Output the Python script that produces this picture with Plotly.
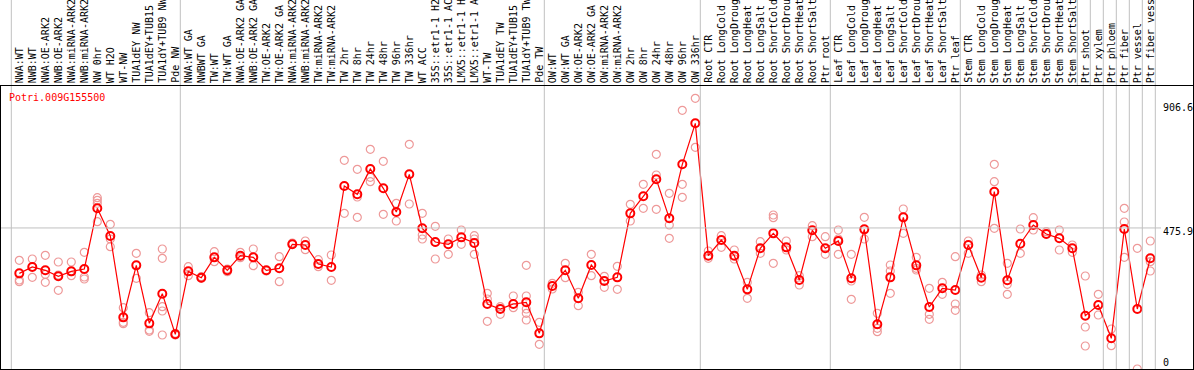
import plotly.graph_objects as go

# ---------------- data ----------------
samples = [
    "NWA:WT", "NWB:WT", "NWA:OE-ARK2", "NWB:OE-ARK2", "NWA:miRNA-ARK2", "NWB:miRNA-ARK2",
    "NW 0hr", "WT H2O", "WT-NW", "TUA1dEY NW", "TUA1dEY+TUB15", "TUA1dY+TUB9 NW", "Pde NW",
    "NWA:WT GA", "NWBWT GA", "TW:WT", "TW:WT GA", "NWA:OE-ARK2 GA", "NWB:OE-ARK2 GA",
    "TW:OE-ARK2", "TW:OE-ARK2 GA", "NWA:miRNA-ARK2", "NWB:miRNA-ARK2", "TW:miRNA-ARK2",
    "TW:miRNA-ARK2", "TW 2hr", "TW 8hr", "TW 24hr", "TW 48hr", "TW 96hr", "TW 336hr",
    "WT ACC", "35S::etr1-1 H2", "35S::etr1-1 AC", "LMX5::etr1-1 H", "LMX5::etr1-1 A",
    "WT-TW", "TUA1dEY TW", "TUA1dEY+TUB15", "TUA1dY+TUB9 TW", "Pde TW",
    "OW:WT", "OW:WT GA", "OW:OE-ARK2", "OW:OE-ARK2 GA", "OW:miRNA-ARK2", "OW:miRNA-ARK2",
    "OW 2hr", "OW 8hr", "OW 24hr", "OW 48hr", "OW 96hr", "OW 336hr",
    "Root CTR", "Root LongCold", "Root LongDroug", "Root LongHeat", "Root LongSalt",
    "Root ShortCold", "Root ShortDrou", "Root ShortHeat", "Root ShortSalt", "Ptr root",
    "Leaf CTR", "Leaf LongCold", "Leaf LongDroug", "Leaf LongHeat", "Leaf LongSalt",
    "Leaf ShortCold", "Leaf ShortDrou", "Leaf ShortHeat", "Leaf ShortSalt", "Ptr leaf",
    "Stem CTR", "Stem LongCold", "Stem LongDroug", "Stem LongHeat", "Stem LongSalt",
    "Stem ShortCold", "Stem ShortDrou", "Stem ShortHeat", "Stem ShortSalt", "Ptr shoot",
    "Ptr xylem", "Ptr phloem", "Ptr fiber", "Ptr vessel", "Ptr fiber vess",
]

means = [
    323.8, 345.1, 333.9, 313.8, 330.5, 338.4, 541.6, 448.9, 176.4, 350.6, 156.3, 255.7, 119.5,
    330.5, 309.3, 377.4, 333.9, 383.0, 377.4, 333.9, 340.6, 421.0, 418.8, 355.1, 345.1,
    616.4, 588.5, 673.4, 608.6, 529.3, 655.5, 474.6, 428.8, 421.0, 444.4, 425.5,
    221.1, 204.4, 221.1, 226.7, 122.8,
    281.4, 333.9, 240.1, 351.8, 298.2, 310.4, 524.8, 581.8, 638.8, 508.1, 689.0, 826.4,
    383.0, 435.5, 383.0, 270.2, 407.6, 457.8, 410.9, 301.5, 467.9, 407.6,
    432.2, 307.1, 471.2, 153.0, 310.4, 511.4, 350.6, 211.1, 273.6, 268.0,
    418.8, 309.3, 597.4, 300.4, 423.2, 485.8, 455.6, 441.1, 407.6, 182.0,
    217.8, 106.1, 472.4, 204.4, 374.1,
]

replicates = [
    [367.4, 301.5, 295.9], [371.9, 346.2, 310.4], [384.1, 320.5, 293.7], [361.8, 318.3, 266.9],
    [361.8, 316.0, 329.4], [394.2, 311.6, 304.9], [577.3, 568.4, 558.4, 496.9],
    [488.0, 438.9, 413.2], [208.8, 159.7, 155.2], [390.8, 307.1], [192.1, 134.0, 129.5],
    [405.4, 374.1, 212.2, 197.7, 117.3], [122.8, 117.3],
    [346.2, 316.0], [312.7, 307.1], [396.4, 362.9], [329.4, 338.4], [394.2, 376.3],
    [405.4, 349.5], [331.7], [379.7, 295.9], [421.0, 425.5], [432.2, 403.1], [369.6, 346.2],
    [385.3, 300.4], [702.4, 524.8], [672.3, 579.6, 511.4], [739.3, 645.5, 630.9],
    [699.1, 521.5], [558.4, 499.2], [756.0, 556.1], [524.8, 452.3, 438.9],
    [481.3, 427.7, 371.9], [438.9, 387.5], [469.0, 421.0], [450.0, 438.9, 387.5],
    [256.8, 237.9, 163.0], [212.2, 186.5], [247.9, 208.8],
    [350.6, 247.9, 204.4, 189.8, 167.5], [159.7, 86.0],
    [290.3, 271.4], [357.3, 309.3], [260.2, 215.5], [387.5, 316.0], [313.8, 276.9],
    [347.3, 270.2], [555.0, 499.2], [622.0, 541.6], [722.5, 653.3, 538.2],
    [591.8, 485.8, 441.1], [869.9, 622.0, 578.5], [910.1, 746.0],
    [398.7, 374.1], [450.0, 410.9], [402.0, 371.9], [293.7, 240.1], [429.9, 390.8],
    [519.3, 510.3, 357.3], [432.2, 402.0], [316.0, 284.8], [483.5, 446.7], [446.7, 387.5],
    [469.0, 438.9, 387.5], [387.5, 298.2, 236.7], [511.4, 438.9], [189.8, 139.6, 128.4],
    [351.8, 331.7, 256.8], [539.4, 457.8], [377.4, 340.6, 335.0], [273.6, 186.5, 169.7],
    [293.7, 253.5], [379.7, 221.1, 199.9],
    [432.2, 390.8], [318.3, 295.9], [689.0, 630.9, 474.6], [357.3, 287.0, 253.5],
    [472.4, 390.8], [510.3, 469.0], [455.6, 463.4], [469.0, 402.0], [418.8, 394.2],
    [314.9, 144.1, 80.4],
    [253.5, 184.3], [137.4, 81.5], [541.6, 495.8, 377.4], [407.6, 3.4], [432.2, 362.9, 331.7],
]

gene_id = "Potri.009G155500"
axis_labels = ["906.6", "475.9", "0"]
axis_values = [906.6, 475.9, 0.0]
gridline_value = 475.9

# ---------------- layout constants ----------------
W, H = 1194, 370
STEP = 13.0          # px between samples
FIRST_PX = 19.3      # px of first sample
PX_PER_UNIT = 0.2985 # px per expression unit
TOP_PX = 85.5        # line between labels and plot
FONT = "DejaVu Sans Mono"

plot_sep_after = [-1, 12, 40, 52, 62, 72, 83, 84, 85, 86, 87]
label_sep_after = [81, 82]

def px_x(p):
    return p / W

def px_y(p):
    return 1 - p / H

x_range = [-FIRST_PX / STEP, (W - FIRST_PX) / STEP]
y_range = [0, H / PX_PER_UNIT]

fig = go.Figure()

# replicate points
rx, ry = [], []
for i, reps in enumerate(replicates):
    for v in reps:
        rx.append(i)
        ry.append(v)
fig.add_trace(go.Scatter(
    x=rx, y=ry, mode="markers",
    marker=dict(symbol="circle-open", size=8, color="#EE9999", line=dict(width=1.2)),
    hoverinfo="skip", showlegend=False,
))

# mean line
fig.add_trace(go.Scatter(
    x=list(range(len(means))), y=means, mode="lines+markers",
    line=dict(color="#FF0000", width=1.2),
    marker=dict(symbol="circle-open", size=8, color="#FF0000", line=dict(width=2)),
    showlegend=False,
))

shapes = []
sep_color = "#C0C0C0"
for k in plot_sep_after:
    xv = k + 0.5 - 1.5 / STEP
    shapes.append(dict(type="line", xref="x", yref="paper", x0=xv, x1=xv,
                       y0=px_y(369), y1=1, line=dict(color=sep_color, width=1)))
for k in label_sep_after:
    xv = k + 0.5 - 1.5 / STEP
    shapes.append(dict(type="line", xref="x", yref="paper", x0=xv, x1=xv,
                       y0=px_y(TOP_PX), y1=1, line=dict(color=sep_color, width=1)))
# horizontal grid line
shapes.append(dict(type="line", xref="paper", yref="y", x0=0, x1=px_x(1161),
                   y0=gridline_value, y1=gridline_value, line=dict(color=sep_color, width=1)))
# borders
black = dict(color="black", width=1)
shapes.append(dict(type="line", xref="paper", yref="paper", x0=0, x1=1,
                   y0=px_y(TOP_PX), y1=px_y(TOP_PX), line=black))
shapes.append(dict(type="line", xref="paper", yref="paper", x0=0, x1=1,
                   y0=px_y(369.5), y1=px_y(369.5), line=black))
shapes.append(dict(type="line", xref="paper", yref="paper", x0=px_x(0.5), x1=px_x(0.5),
                   y0=px_y(TOP_PX), y1=px_y(370), line=black))
shapes.append(dict(type="line", xref="paper", yref="paper", x0=px_x(1193.5), x1=px_x(1193.5),
                   y0=0, y1=1, line=black))

annotations = []
for i, name in enumerate(samples):
    annotations.append(dict(
        x=i, xref="x", y=px_y(85), yref="paper", text=name, textangle=-90,
        xanchor="center", yanchor="bottom", showarrow=False,
        font=dict(family=FONT, size=10, color="black"),
    ))
annotations.append(dict(
    x=px_x(7), xref="paper", y=px_y(97.5), yref="paper", text=gene_id,
    xanchor="left", yanchor="middle", showarrow=False,
    font=dict(family=FONT, size=10, color="#FF0000"),
))
label_shift = [-8, -4, 8]
for lab, val, sh in zip(axis_labels, axis_values, label_shift):
    annotations.append(dict(
        x=px_x(1161), xref="paper", y=val, yref="y", yshift=sh, text=lab,
        xanchor="left", yanchor="middle", showarrow=False,
        font=dict(family=FONT, size=10, color="black"),
    ))

fig.update_layout(
    width=W, height=H, margin=dict(l=0, r=0, t=0, b=0),
    paper_bgcolor="white", plot_bgcolor="white",
    xaxis=dict(range=x_range, visible=False, showgrid=False, zeroline=False),
    yaxis=dict(range=y_range, visible=False, showgrid=False, zeroline=False),
    shapes=shapes, annotations=annotations, showlegend=False,
)

fig.write_html(
    "out.html",
    config={"displayModeBar": False},
    post_script="document.body.style.margin='0';document.body.style.overflow='hidden';",
)
